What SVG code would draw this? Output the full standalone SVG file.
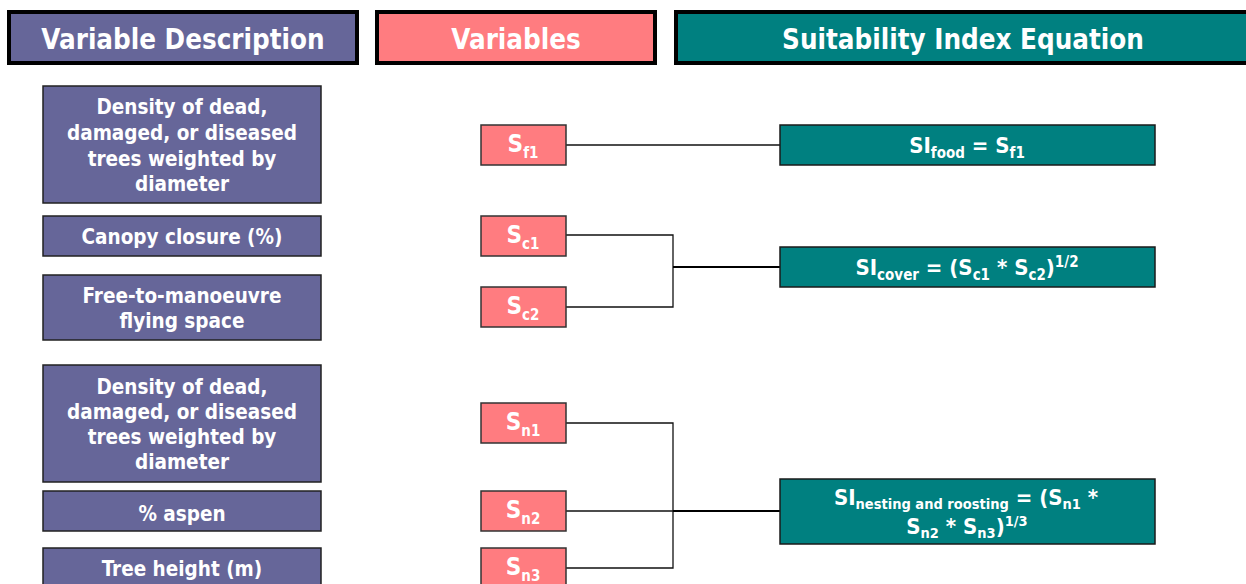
<svg xmlns="http://www.w3.org/2000/svg" width="1246" height="584" viewBox="0 0 1246 584">
<style>
text{font-family:"DejaVu Sans Condensed","DejaVu Sans","Verdana",sans-serif;font-stretch:condensed;font-weight:bold;fill:#fff;text-anchor:middle}
.hdr{stroke:#000;stroke-width:4}
.desc{fill:#666699;stroke:#222;stroke-width:1.5}
.var{fill:#ff7c80;stroke:#333;stroke-width:1.5}
.eq{fill:#008080;stroke:#1a1a1a;stroke-width:1.5}
.h{font-size:27.5px}
.d{font-size:20.5px}
.v{font-size:24px}
.e{font-size:22px}
.sub{font-size:15px}
.sub2{font-size:14.5px}
.con{fill:none;stroke:#111;stroke-width:1.3}
.conb{fill:none;stroke:#000;stroke-width:2.2}
</style>
<rect width="1246" height="584" fill="#fff"/>
<g id="header-desc"><rect class="hdr" x="9" y="12" width="348" height="51" fill="#666699"/><text class="h" x="183" y="49">Variable Description</text></g>
<g id="header-vars"><rect class="hdr" x="377" y="12" width="278" height="51" fill="#ff7c80"/><text class="h" x="516" y="49">Variables</text></g>
<g id="header-eq"><rect class="hdr" x="676" y="12" width="580" height="51" fill="#008080"/><text class="h" x="963" y="49">Suitability Index Equation</text></g>

<g id="desc-f1"><rect class="desc" x="43" y="86" width="278" height="117"/><text class="d"><tspan x="182" y="114">Density of dead,</tspan><tspan x="182" y="140">damaged, or diseased</tspan><tspan x="182" y="166">trees weighted by</tspan><tspan x="182" y="191">diameter</tspan></text></g>
<g id="desc-c1"><rect class="desc" x="43" y="216" width="278" height="40"/><text class="d" x="182" y="244">Canopy closure (%)</text></g>
<g id="desc-c2"><rect class="desc" x="43" y="275" width="278" height="65"/><text class="d"><tspan x="182" y="303">Free-to-manoeuvre</tspan><tspan x="182" y="328">flying space</tspan></text></g>
<g id="desc-n1"><rect class="desc" x="43" y="365" width="278" height="117"/><text class="d"><tspan x="182" y="394">Density of dead,</tspan><tspan x="182" y="419">damaged, or diseased</tspan><tspan x="182" y="444">trees weighted by</tspan><tspan x="182" y="469">diameter</tspan></text></g>
<g id="desc-n2"><rect class="desc" x="43" y="491" width="278" height="40"/><text class="d" x="182" y="521">% aspen</text></g>
<g id="desc-n3"><rect class="desc" x="43" y="548" width="278" height="50"/><text class="d" x="182" y="576">Tree height (m)</text></g>

<g id="connectors">
<path class="con" d="M566 145H780"/>
<path class="con" d="M566 235H673V307H566"/>
<path class="conb" d="M673 267H780"/>
<path class="con" d="M566 423H673V568H566"/>
<path class="con" d="M566 511H673"/>
<path class="conb" d="M673 511H780"/>
</g>

<g id="var-f1"><rect class="var" x="481" y="125" width="85" height="40"/><text class="v" x="523" y="152">S<tspan class="sub" dy="6">f1</tspan></text></g>
<g id="var-c1"><rect class="var" x="481" y="216" width="85" height="40"/><text class="v" x="523" y="243">S<tspan class="sub" dy="6">c1</tspan></text></g>
<g id="var-c2"><rect class="var" x="481" y="287" width="85" height="40"/><text class="v" x="523" y="314">S<tspan class="sub" dy="6">c2</tspan></text></g>
<g id="var-n1"><rect class="var" x="481" y="403" width="85" height="40"/><text class="v" x="523" y="430">S<tspan class="sub" dy="6">n1</tspan></text></g>
<g id="var-n2"><rect class="var" x="481" y="491" width="85" height="40"/><text class="v" x="523" y="518">S<tspan class="sub" dy="6">n2</tspan></text></g>
<g id="var-n3"><rect class="var" x="481" y="548" width="85" height="50"/><text class="v" x="523" y="575">S<tspan class="sub" dy="6">n3</tspan></text></g>

<g id="eq-food"><rect class="eq" x="780" y="125" width="375" height="40"/><text class="e" x="967" y="153">SI<tspan class="sub" dy="5">food</tspan><tspan dy="-5"> = S</tspan><tspan class="sub" dy="5">f1</tspan></text></g>
<g id="eq-cover"><rect class="eq" x="780" y="247" width="375" height="40"/><text class="e" x="967" y="275">SI<tspan class="sub" dy="5">cover</tspan><tspan dy="-5"> = (S</tspan><tspan class="sub" dy="5">c1</tspan><tspan dy="-5"> * S</tspan><tspan class="sub" dy="5">c2</tspan><tspan dy="-5">)</tspan><tspan class="sub" dy="-8">1/2</tspan></text></g>
<g id="eq-nest"><rect class="eq" x="780" y="479" width="375" height="65"/><text class="e" x="966" y="505">SI<tspan class="sub2" dy="4">nesting and roosting</tspan><tspan dy="-4"> = (S</tspan><tspan class="sub2" dy="4">n1</tspan><tspan dy="-4"> *</tspan></text><text class="e" x="967" y="534">S<tspan class="sub2" dy="4">n2</tspan><tspan dy="-4"> * S</tspan><tspan class="sub2" dy="4">n3</tspan><tspan dy="-4">)</tspan><tspan class="sub2" dy="-8">1/3</tspan></text></g>
</svg>
